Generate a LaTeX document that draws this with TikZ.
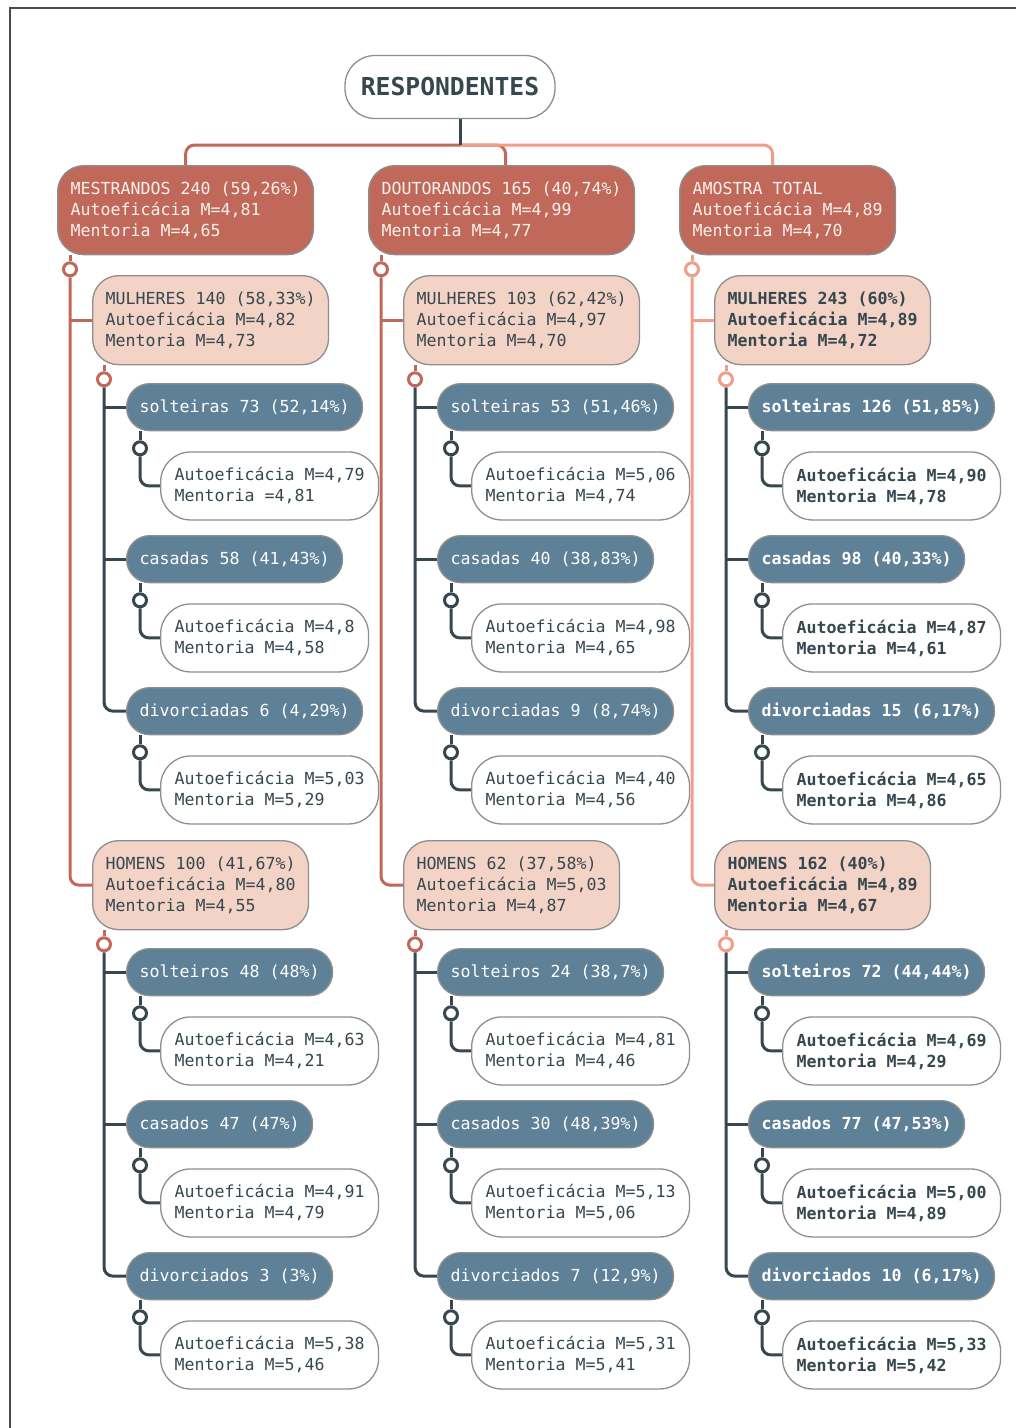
\documentclass[tikz,border=0pt]{standalone}
\usepackage{fontspec}
\newfontfamily\dmono{DejaVu Sans Mono}
\usetikzlibrary{calc,backgrounds}
\definecolor{rd}{HTML}{C0695A}
\definecolor{sal}{HTML}{F39C8A}
\definecolor{pk}{HTML}{F2D3C5}
\definecolor{bl}{HTML}{5F8197}
\definecolor{dk}{HTML}{37474F}
\definecolor{bdr}{HTML}{8E8E8E}
\definecolor{wt}{HTML}{FBF1EC}
\definecolor{frm}{HTML}{4A4A4A}
\colorlet{pc}{rd}
\tikzset{
 nbase/.style={draw=bdr, line width=1.3pt, align=left, inner xsep=13pt, inner ysep=0pt,
   font=\dmono\fontsize{16.6}{21}\selectfont, anchor=north west},
 l1box/.style={nbase, fill=rd, text=wt, minimum height=89pt, rounded corners=26pt},
 gbox/.style={nbase, fill=pk, text=dk, minimum height=89pt, rounded corners=26pt},
 bbox/.style={nbase, fill=bl, text=white, minimum height=47pt, rounded corners=23pt},
 wbox/.style={nbase, fill=white, text=dk, minimum height=68pt, rounded corners=30pt, inner xsep=14pt},
 fb/.style={font=\dmono\bfseries\fontsize{16.6}{21}\selectfont},
 grp/.style={},
 ln/.style={line width=3pt},
 circ/.style={circle, draw=#1, fill=white, line width=3pt, minimum size=13pt, inner sep=0pt},
}
\newcommand{\subgrp}[5]{%
 \node[bbox,grp] (#1b) at (#2,#3) {#4};
 \node[circ=dk] (#1c) at ($(#1b.south west)+(14,17)$) {};
 \node[wbox,grp] (#1w) at ($(#1b.south west)+(34,20)$) {#5};
 \begin{scope}[on background layer]
 \draw[ln,dk] (#1b.south west -| #1c) -- (#1c.north);
 \draw[ln,dk,rounded corners=9pt] (#1c.south) |- (#1w.west);
 \end{scope}}
\newcommand{\genstem}[1]{%
 \node[circ=pc] (#1c) at ($(#1.south west)+(12,14)$) {};
 \begin{scope}[on background layer]
 \draw[ln,pc] (#1.south west -| #1c) -- (#1c.north);
 \draw[ln,dk] (#1c |- #11b.west) -- (#11b.west);
 \draw[ln,dk] (#1c |- #12b.west) -- (#12b.west);
 \draw[ln,dk,rounded corners=9pt] (#1c.south) |- (#13b.west);
 \end{scope}}
\newcommand{\lvlstem}[1]{%
 \node[circ=pc] (#1c) at ($(#1.south west)+(13,14)$) {};
 \begin{scope}[on background layer]
 \draw[ln,pc] (#1.south west -| #1c) -- (#1c.north);
 \draw[ln,pc] (#1c |- #1m.west) -- (#1m.west);
 \draw[ln,pc,rounded corners=9pt] (#1c.south) |- (#1h.west);
 \end{scope}}
\begin{document}
\begin{tikzpicture}[x=1pt,y=-1pt]
\useasboundingbox (0,0) rectangle (1016,1428);
\draw[line width=1.5pt, color=frm] (10,1432) -- (10,8) -- (1020,8);

\node[draw=bdr, line width=1.3pt, fill=white, rounded corners=30pt, minimum width=210pt, minimum height=63pt,
  font=\dmono\bfseries\fontsize{24.7}{28}\selectfont, text=dk] (root) at (450,87) {RESPONDENTES};

% ---------- column 1 ----------
\colorlet{pc}{rd}\tikzset{grp/.style={}}
\node[l1box] (A) at (57,165) {MESTRANDOS 240 (59,26\%)\\Autoeficácia M=4,81\\Mentoria M=4,65};
\node[gbox,grp] (Am) at (92,275) {MULHERES 140 (58,33\%)\\Autoeficácia M=4,82\\Mentoria M=4,73};
\node[gbox,grp] (Ah) at (92,840) {HOMENS 100 (41,67\%)\\Autoeficácia M=4,80\\Mentoria M=4,55};
\lvlstem{A}
\subgrp{Am1}{126}{383}{solteiras 73 (52,14\%)}{Autoeficácia M=4,79\\Mentoria =4,81}
\subgrp{Am2}{126}{535}{casadas 58 (41,43\%)}{Autoeficácia M=4,8\\Mentoria M=4,58}
\subgrp{Am3}{126}{687}{divorciadas 6 (4,29\%)}{Autoeficácia M=5,03\\Mentoria M=5,29}
\genstem{Am}
\subgrp{Ah1}{126}{948}{solteiros 48 (48\%)}{Autoeficácia M=4,63\\Mentoria M=4,21}
\subgrp{Ah2}{126}{1100}{casados 47 (47\%)}{Autoeficácia M=4,91\\Mentoria M=4,79}
\subgrp{Ah3}{126}{1252}{divorciados 3 (3\%)}{Autoeficácia M=5,38\\Mentoria M=5,46}
\genstem{Ah}

% ---------- column 2 ----------
\node[l1box] (B) at (368,165) {DOUTORANDOS 165 (40,74\%)\\Autoeficácia M=4,99\\Mentoria M=4,77};
\node[gbox,grp] (Bm) at (403,275) {MULHERES 103 (62,42\%)\\Autoeficácia M=4,97\\Mentoria M=4,70};
\node[gbox,grp] (Bh) at (403,840) {HOMENS 62 (37,58\%)\\Autoeficácia M=5,03\\Mentoria M=4,87};
\lvlstem{B}
\subgrp{Bm1}{437}{383}{solteiras 53 (51,46\%)}{Autoeficácia M=5,06\\Mentoria M=4,74}
\subgrp{Bm2}{437}{535}{casadas 40 (38,83\%)}{Autoeficácia M=4,98\\Mentoria M=4,65}
\subgrp{Bm3}{437}{687}{divorciadas 9 (8,74\%)}{Autoeficácia M=4,40\\Mentoria M=4,56}
\genstem{Bm}
\subgrp{Bh1}{437}{948}{solteiros 24 (38,7\%)}{Autoeficácia M=4,81\\Mentoria M=4,46}
\subgrp{Bh2}{437}{1100}{casados 30 (48,39\%)}{Autoeficácia M=5,13\\Mentoria M=5,06}
\subgrp{Bh3}{437}{1252}{divorciados 7 (12,9\%)}{Autoeficácia M=5,31\\Mentoria M=5,41}
\genstem{Bh}

% ---------- column 3 ----------
\colorlet{pc}{sal}\tikzset{grp/.style={fb}}
\node[l1box] (C) at (679,165) {AMOSTRA TOTAL\\Autoeficácia M=4,89\\Mentoria M=4,70};
\node[gbox,grp] (Cm) at (714,275) {MULHERES 243 (60\%)\\Autoeficácia M=4,89\\Mentoria M=4,72};
\node[gbox,grp] (Ch) at (714,840) {HOMENS 162 (40\%)\\Autoeficácia M=4,89\\Mentoria M=4,67};
\lvlstem{C}
\subgrp{Cm1}{748}{383}{solteiras 126 (51,85\%)}{Autoeficácia M=4,90\\Mentoria M=4,78}
\subgrp{Cm2}{748}{535}{casadas 98 (40,33\%)}{Autoeficácia M=4,87\\Mentoria M=4,61}
\subgrp{Cm3}{748}{687}{divorciadas 15 (6,17\%)}{Autoeficácia M=4,65\\Mentoria M=4,86}
\genstem{Cm}
\subgrp{Ch1}{748}{948}{solteiros 72 (44,44\%)}{Autoeficácia M=4,69\\Mentoria M=4,29}
\subgrp{Ch2}{748}{1100}{casados 77 (47,53\%)}{Autoeficácia M=5,00\\Mentoria M=4,89}
\subgrp{Ch3}{748}{1252}{divorciados 10 (6,17\%)}{Autoeficácia M=5,33\\Mentoria M=5,42}
\genstem{Ch}

% ---------- top connectors ----------
\coordinate (j) at (460,145);
\begin{scope}[on background layer]
\draw[ln,rd,rounded corners=9pt] (j) -| (A.north);
\draw[ln,rd,rounded corners=9pt] (j) -| ($(B.north)+(4,0)$);
\draw[ln,sal,rounded corners=9pt] (j) -| ($(C.north)+(-15,0)$);
\draw[ln,dk] (root.south -| j) -- (j);
\end{scope}
\end{tikzpicture}
\end{document}
